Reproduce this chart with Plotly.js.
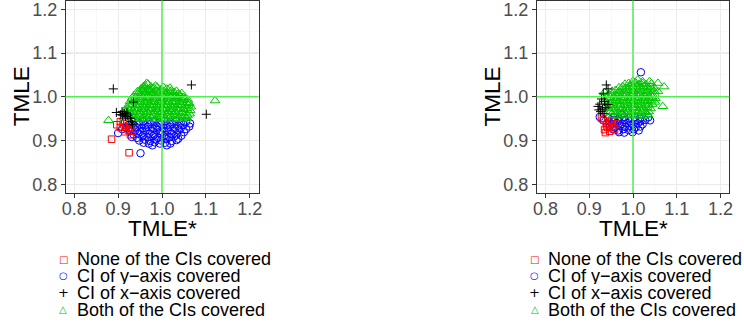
<!DOCTYPE html>
<html>
<head>
<meta charset="utf-8">
<script src="https://cdn.plot.ly/plotly-3.0.1.min.js"></script>
<style>
  html, body { margin: 0; padding: 0; background: #ffffff; }
  #chart { width: 744px; height: 325px; }
</style>
</head>
<body>
<div id="chart"></div>
<script>
// Legend labels, in display order
const groupLabels = [
  'None of the CIs covered',
  'CI of y\u2212axis covered',
  'CI of x\u2212axis covered',
  'Both of the CIs covered'
];
const tickValues = [0.8, 0.9, 1.0, 1.1, 1.2];
const refValue = 1.0;

// ---- Left panel: (TMLE*, TMLE) pairs per coverage group ----
const leftNone = [
  [0.885,0.903],[0.925,0.872],[0.897,0.936],[0.905,0.930],[0.923,0.924],[0.928,0.930],
  [0.915,0.920],[0.905,0.943],[0.920,0.947],[0.928,0.913],[0.912,0.938],[0.932,0.921],[0.918,0.931]
];
const leftXOnly = [
  [0.889,1.018],[1.067,1.027],[1.101,0.960],[0.896,0.964],[0.909,0.966],[0.920,0.963],
  [0.917,0.955],[0.928,0.951],[0.935,0.988],[0.931,0.943],[0.905,0.959],[0.910,0.958],
  [0.933,0.937],[0.922,0.958],[0.914,0.962]
];
const leftYOnly = [
  [0.916,0.942],[0.931,0.944],[0.944,0.941],[0.957,0.944],[0.969,0.942],[0.981,0.945],[0.994,0.941],
  [1.006,0.944],[1.019,0.942],[1.031,0.945],[1.043,0.941],[1.055,0.943],[1.064,0.939],
  [0.924,0.936],[0.937,0.934],[0.949,0.937],[0.962,0.935],[0.974,0.938],[0.987,0.934],[0.999,0.937],
  [1.012,0.935],[1.024,0.938],[1.037,0.934],[1.049,0.936],[1.062,0.932],
  [0.918,0.929],[0.930,0.927],[0.943,0.930],[0.955,0.928],[0.968,0.931],[0.980,0.927],[0.993,0.930],
  [1.005,0.928],[1.018,0.931],[1.030,0.927],[1.043,0.929],[1.055,0.926],
  [0.927,0.921],[0.939,0.923],[0.951,0.920],[0.963,0.923],[0.976,0.921],[0.988,0.924],[1.001,0.920],
  [1.013,0.923],[1.026,0.921],[1.038,0.923],[1.050,0.919],
  [0.935,0.914],[0.946,0.916],[0.958,0.913],[0.971,0.916],[0.983,0.914],[0.996,0.917],[1.008,0.913],
  [1.021,0.916],[1.033,0.914],[1.044,0.911],
  [0.931,0.908],[0.943,0.906],[0.955,0.909],[0.967,0.907],[0.979,0.910],[0.991,0.906],[1.004,0.909],
  [1.016,0.907],[1.028,0.909],[1.037,0.904],
  [0.948,0.900],[0.961,0.902],[0.973,0.899],[0.986,0.902],[0.998,0.900],[1.010,0.903],[1.022,0.899],[1.033,0.901],
  [0.958,0.895],[0.970,0.893],[0.983,0.896],[0.995,0.893],[1.007,0.895],[1.019,0.893],
  [0.978,0.889],[1.011,0.889],[0.951,0.871],[0.900,0.917],[0.909,0.926]
];
const leftBoth = [
  [0.961,1.026],[0.968,1.029],[0.975,1.023],[0.958,1.024],[0.965,1.031],[0.985,1.025],[1.003,1.022],[1.018,1.020],
  [0.952,1.018],[0.959,1.021],[0.966,1.017],[0.981,1.020],[0.989,1.022],[0.997,1.016],[1.011,1.018],[1.021,1.014],[0.973,1.015],
  [0.944,1.012],[0.951,1.009],[0.958,1.014],[0.965,1.010],[0.972,1.013],[0.980,1.009],[0.988,1.014],[0.996,1.011],
  [1.004,1.013],[1.012,1.009],[1.019,1.012],[1.028,1.010],[1.036,1.006],[1.033,1.013],[1.045,1.008],
  [0.937,1.004],[0.945,1.007],[0.953,1.003],[0.961,1.006],[0.968,1.002],[0.976,1.006],[0.984,1.003],[0.992,1.007],
  [1.000,1.004],[1.008,1.006],[1.016,1.002],[1.024,1.005],[1.032,1.001],[1.040,1.004],[1.048,0.999],
  [0.932,0.997],[0.940,0.999],[0.948,0.995],[0.956,0.998],[0.964,0.996],[0.972,0.999],[0.980,0.995],[0.988,0.998],
  [0.996,0.996],[1.004,0.999],[1.012,0.995],[1.020,0.998],[1.028,0.996],[1.036,0.999],[1.044,0.995],[1.052,0.997],[1.059,0.993],
  [0.927,0.989],[0.935,0.991],[0.943,0.988],[0.951,0.990],[0.959,0.987],[0.967,0.991],[0.975,0.988],[0.983,0.990],
  [0.991,0.987],[0.999,0.991],[1.007,0.988],[1.015,0.990],[1.023,0.987],[1.031,0.990],[1.039,0.988],[1.047,0.991],[1.055,0.987],[1.062,0.985],
  [0.924,0.981],[0.932,0.983],[0.940,0.980],[0.948,0.982],[0.956,0.979],[0.964,0.983],[0.972,0.980],[0.980,0.982],
  [0.988,0.979],[0.996,0.983],[1.004,0.980],[1.012,0.982],[1.020,0.979],[1.028,0.983],[1.036,0.980],[1.044,0.982],[1.052,0.979],[1.060,0.981],[1.066,0.977],
  [0.921,0.973],[0.929,0.975],[0.937,0.972],[0.945,0.974],[0.953,0.971],[0.961,0.975],[0.969,0.972],[0.977,0.974],
  [0.985,0.971],[0.993,0.975],[1.001,0.972],[1.009,0.974],[1.017,0.971],[1.025,0.975],[1.033,0.972],[1.041,0.974],[1.049,0.971],[1.057,0.973],[1.064,0.969],
  [0.918,0.965],[0.926,0.967],[0.934,0.964],[0.942,0.966],[0.950,0.963],[0.958,0.967],[0.966,0.964],[0.974,0.966],
  [0.982,0.963],[0.990,0.967],[0.998,0.964],[1.006,0.966],[1.014,0.963],[1.022,0.967],[1.030,0.964],[1.038,0.966],[1.046,0.963],[1.054,0.965],[1.063,0.961],
  [0.924,0.957],[0.932,0.959],[0.940,0.956],[0.948,0.958],[0.956,0.955],[0.964,0.959],[0.972,0.956],[0.980,0.958],
  [0.988,0.955],[0.996,0.959],[1.004,0.956],[1.012,0.958],[1.020,0.955],[1.028,0.959],[1.036,0.956],[1.044,0.958],[1.052,0.955],[1.058,0.957],
  [0.936,0.950],[0.946,0.948],[0.956,0.951],[0.966,0.949],[0.976,0.952],[0.986,0.948],[0.996,0.951],[1.006,0.949],
  [1.016,0.952],[1.026,0.948],[1.036,0.951],[1.046,0.949],[1.055,0.952],
  [0.878,0.946],[1.121,0.991],[1.056,0.952],[0.914,0.952],[0.916,0.970]
];

// ---- Right panel ----
const rightNone = [
  [0.928,0.951],[0.932,0.947],[0.939,0.936],[0.935,0.925],[0.947,0.921],[0.954,0.932],
  [0.951,0.944],[0.962,0.938],[0.941,0.930],[0.944,0.940],[0.958,0.926],[0.937,0.918]
];
const rightXOnly = [
  [0.939,1.027],[0.943,1.018],[0.932,1.008],[0.928,0.995],[0.935,0.989],[0.924,0.983],
  [0.943,0.982],[0.920,0.978],[0.930,0.972],[0.938,0.975],[0.926,0.966],[0.934,0.962],[0.922,0.970]
];
const rightYOnly = [
  [0.924,0.954],[0.944,0.951],[0.956,0.953],[0.968,0.950],[0.980,0.953],[0.992,0.951],[1.004,0.954],[1.016,0.950],[1.035,0.953],
  [0.933,0.946],[0.945,0.944],[0.957,0.947],[0.969,0.945],[0.981,0.947],[0.993,0.944],[1.005,0.946],[1.017,0.944],[1.028,0.947],[1.039,0.946],
  [0.940,0.939],[0.951,0.937],[0.963,0.940],[0.975,0.938],[0.987,0.940],[0.999,0.937],[1.011,0.939],[1.022,0.937],
  [0.947,0.932],[0.958,0.930],[0.970,0.933],[0.982,0.931],[0.994,0.933],[1.006,0.930],[1.017,0.932],
  [0.955,0.925],[0.966,0.923],[0.978,0.926],[0.990,0.924],[1.002,0.926],[1.013,0.923],
  [0.968,0.919],[0.980,0.918],[0.999,0.919],[1.018,1.056],[0.974,0.959]
];
const rightBoth = [
  [1.000,1.036],[1.011,1.039],[1.022,1.035],[1.038,1.035],
  [0.982,1.029],[0.990,1.031],[0.998,1.028],[1.006,1.032],[1.014,1.029],[1.022,1.031],[1.030,1.028],[1.042,1.030],[1.057,1.031],
  [0.968,1.021],[0.976,1.023],[0.984,1.020],[0.992,1.024],[1.000,1.021],[1.008,1.023],[1.016,1.020],[1.024,1.024],
  [1.032,1.021],[1.040,1.023],[1.048,1.020],[1.071,1.023],
  [0.952,1.013],[0.960,1.015],[0.968,1.012],[0.976,1.016],[0.984,1.013],[0.992,1.015],[1.000,1.012],[1.008,1.016],
  [1.016,1.013],[1.024,1.015],[1.032,1.012],[1.040,1.016],[1.048,1.013],[1.057,1.012],
  [0.944,1.005],[0.952,1.007],[0.960,1.004],[0.968,1.008],[0.976,1.005],[0.984,1.007],[0.992,1.004],[1.000,1.008],
  [1.008,1.005],[1.016,1.007],[1.024,1.004],[1.032,1.008],[1.040,1.005],[1.049,1.006],
  [0.940,0.997],[0.948,0.999],[0.956,0.996],[0.964,1.000],[0.972,0.997],[0.980,0.999],[0.988,0.996],[0.996,1.000],
  [1.004,0.997],[1.012,0.999],[1.020,0.996],[1.028,1.000],[1.036,0.997],[1.044,0.999],[1.051,0.996],
  [0.938,0.989],[0.946,0.991],[0.954,0.988],[0.962,0.992],[0.970,0.989],[0.978,0.991],[0.986,0.988],[0.994,0.992],
  [1.002,0.989],[1.010,0.991],[1.018,0.988],[1.026,0.992],[1.034,0.989],[1.042,0.991],[1.050,0.988],
  [0.940,0.981],[0.948,0.983],[0.956,0.980],[0.964,0.984],[0.972,0.981],[0.980,0.983],[0.988,0.980],[0.996,0.984],
  [1.004,0.981],[1.012,0.983],[1.020,0.980],[1.028,0.984],[1.036,0.981],[1.044,0.983],
  [0.944,0.973],[0.952,0.975],[0.960,0.972],[0.968,0.976],[0.976,0.973],[0.984,0.975],[0.992,0.972],[1.000,0.976],
  [1.008,0.973],[1.016,0.975],[1.024,0.972],[1.032,0.976],[1.040,0.973],
  [0.948,0.965],[0.956,0.967],[0.964,0.964],[0.972,0.968],[0.980,0.965],[0.988,0.967],[0.996,0.964],[1.004,0.968],
  [1.012,0.965],[1.020,0.967],[1.028,0.964],[1.036,0.966],
  [0.955,0.958],[0.965,0.956],[0.975,0.959],[0.985,0.957],[0.995,0.959],[1.005,0.956],[1.015,0.958],[1.025,0.956],[1.034,0.959],
  [1.068,0.978],[0.935,1.010]
];

// Marker style per group (same order as groupLabels)
const groupStyles = [
  { symbol: 'square-open',      size: 6.5, color: '#FF0000' },
  { symbol: 'circle-open',      size: 7.5, color: '#0000FF' },
  { symbol: 'cross-thin-open',  size: 6.5, color: '#000000' },
  { symbol: 'triangle-up-open', size: 8.5, color: '#00C800' }
];
const legendGlyphs = ['\u25A1', '\u25CB', '+', '\u25B3'];
const legendGlyphSizes = [10, 10, 13, 10];

// Figure geometry (px)
const W = 744, H = 325;
const panelTop = 0.5, panelBottom = 193;
const panels = [
  { left: 65.5,  right: 258.5, xa: 'x',  ya: 'y',  data: [leftNone, leftYOnly, leftXOnly, leftBoth] },
  { left: 536.7, right: 729.3, xa: 'x2', ya: 'y2', data: [rightNone, rightYOnly, rightXOnly, rightBoth] }
];
const drawOrder = [1, 0, 3, 2]; // circles, squares, triangles, crosses

const traces = [];
panels.forEach(p => {
  drawOrder.forEach(g => {
    const pts = p.data[g];
    const st = groupStyles[g];
    traces.push({
      type: 'scatter', mode: 'markers',
      x: pts.map(d => d[0]), y: pts.map(d => d[1]),
      xaxis: p.xa, yaxis: p.ya, name: groupLabels[g], showlegend: false,
      hoverinfo: 'skip',
      marker: { symbol: st.symbol, size: st.size, color: st.color, line: { color: st.color, width: 1 } }
    });
  });
});

const fontFam = '"Liberation Sans", Arial, Helvetica, sans-serif';
function axisDef(domain, standoff) {
  return {
    domain: domain, range: [0.78, 1.22], autorange: false,
    tickmode: 'array', tickvals: tickValues, ticktext: tickValues.map(v => v.toFixed(1)),
    ticks: 'outside', ticklen: 3.7, tickwidth: 1, tickcolor: '#333333',
    ticklabeloverflow: 'allow', ticklabelstandoff: standoff,
    showline: true, mirror: true, linecolor: '#333333', linewidth: 1,
    showgrid: true, gridcolor: '#EBEBEB', gridwidth: 1.1,
    minor: { tickmode: 'array', tickvals: [0.85, 0.95, 1.05, 1.15], showgrid: true, gridcolor: '#F3F3F3', gridwidth: 0.6, ticks: '' },
    zeroline: false, fixedrange: true,
    tickfont: { family: fontFam, size: 18, color: '#4D4D4D' }
  };
}
const yDom = [1 - panelBottom / H, 1 - panelTop / H];

const layout = {
  width: W, height: H,
  margin: { l: 0, r: 0, t: 0, b: 0, pad: 0 },
  paper_bgcolor: '#FFFFFF', plot_bgcolor: '#FFFFFF',
  showlegend: false,
  xaxis:  Object.assign(axisDef([panels[0].left / W, panels[0].right / W], -4), { anchor: 'y' }),
  yaxis:  Object.assign(axisDef(yDom, 0), { anchor: 'x' }),
  xaxis2: Object.assign(axisDef([panels[1].left / W, panels[1].right / W], -4), { anchor: 'y2' }),
  yaxis2: Object.assign(axisDef(yDom, 0), { anchor: 'x2' }),
  shapes: [],
  annotations: []
};

// Reference lines at 1 on both axes, drawn above the points
panels.forEach(p => {
  const lineStyle = { color: 'rgb(80,240,80)', width: 1.4 };
  layout.shapes.push({ type: 'line', layer: 'above', xref: p.xa, yref: p.ya + ' domain', x0: refValue, x1: refValue, y0: 0, y1: 1, line: lineStyle });
  layout.shapes.push({ type: 'line', layer: 'above', xref: p.xa + ' domain', yref: p.ya, x0: 0, x1: 1, y0: refValue, y1: refValue, line: lineStyle });
});

// Axis titles and legends (text)
const legendRowsPx = [258.5, 275.3, 292.2, 309.2];
panels.forEach(p => {
  const cx = (p.left + p.right) / 2;
  layout.annotations.push({
    xref: 'paper', yref: 'paper', x: cx / W, y: 1 - 228 / H, xanchor: 'center', yanchor: 'middle',
    text: 'TMLE*', showarrow: false, height: 22, font: { family: fontFam, size: 22.5, color: '#000000' }
  });
  layout.annotations.push({
    xref: 'paper', yref: 'paper', x: (p.left - 43.8) / W, y: 1 - 96.5 / H, xanchor: 'center', yanchor: 'middle',
    text: 'TMLE', textangle: -90, showarrow: false, font: { family: fontFam, size: 22.5, color: '#000000' }
  });
  groupLabels.forEach((lab, i) => {
    const py = legendRowsPx[i];
    layout.annotations.push({
      xref: 'paper', yref: 'paper', x: (p.left - 2.2) / W, y: 1 - py / H, xanchor: 'center', yanchor: 'middle',
      text: legendGlyphs[i], showarrow: false, height: 14,
      font: { family: '"DejaVu Sans", sans-serif', size: legendGlyphSizes[i], color: groupStyles[i].color }
    });
    layout.annotations.push({
      xref: 'paper', yref: 'paper', x: (p.left + 9.5) / W, y: 1 - py / H, xanchor: 'left', yanchor: 'middle',
      text: lab, showarrow: false, height: 17, font: { family: fontFam, size: 18, color: '#000000' }
    });
  });
});

Plotly.newPlot('chart', traces, layout, { displayModeBar: false, staticPlot: true });
</script>
</body>
</html>
